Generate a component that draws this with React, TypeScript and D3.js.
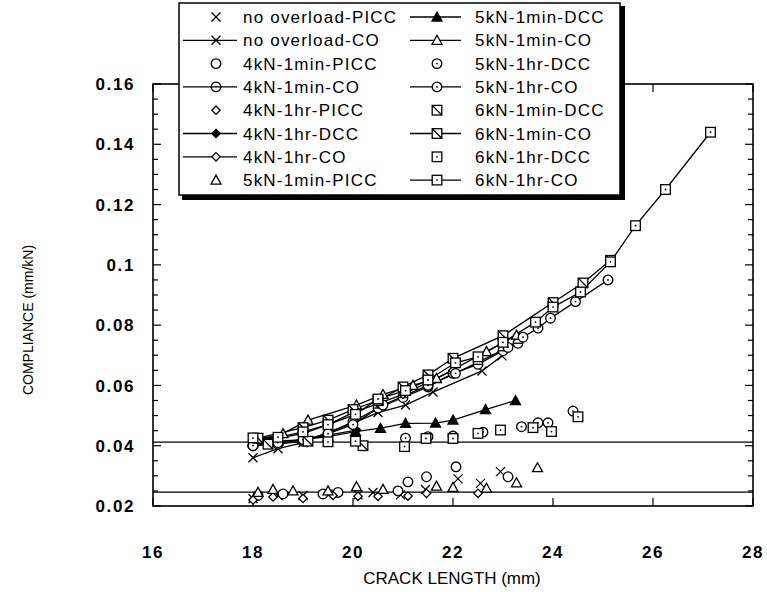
import React from 'react';
import * as d3 from 'd3';

const W = 767;
const H = 592;
const FONT = 'Liberation Sans, Arial, Helvetica, sans-serif';

// axis ticks
const xTicks = [16, 18, 20, 22, 24, 26, 28];
const yTicks = [0.02, 0.04, 0.06, 0.08, 0.1, 0.12, 0.14, 0.16];
const yTickLabels = ['0.02', '0.04', '0.06', '0.08', '0.1', '0.12', '0.14', '0.16'];
const refLines = [0.0412, 0.0246];

// series values [crack length mm, compliance mm/kN]
const noOverloadPICC = [[18.0, 0.0225], [18.5, 0.0235], [19.0, 0.0235], [19.5, 0.024], [20.1, 0.0237], [20.4, 0.0245], [20.95, 0.0237], [21.45, 0.0255], [22.1, 0.029], [22.55, 0.0275], [22.95, 0.0314]];
const noOverloadCO = [[18.0, 0.036], [18.5, 0.039], [19.0, 0.041], [19.5, 0.0445], [20.0, 0.0475], [20.5, 0.051], [21.05, 0.0535], [21.6, 0.0578], [22.58, 0.0648], [22.98, 0.0698]];
const kN4min1PICC = [[18.1, 0.0235], [18.6, 0.024], [19.4, 0.024], [19.7, 0.0245], [20.9, 0.025], [21.1, 0.028], [21.47, 0.0297], [22.06, 0.033], [23.1, 0.0297]];
const kN4min1CO = [[18.0, 0.04], [18.5, 0.0405], [19.0, 0.0415], [19.5, 0.044], [20.0, 0.048], [20.5, 0.0525], [21.0, 0.056], [21.5, 0.0595], [22.0, 0.064], [22.5, 0.067], [23.0, 0.0715], [23.3, 0.074]];
const kN4hr1PICC = [[18.0, 0.022], [18.4, 0.023], [19.0, 0.0225], [19.6, 0.0235], [20.1, 0.0232], [20.5, 0.0232], [21.1, 0.0233], [21.47, 0.0242], [22.5, 0.0242]];
const kN4hr1DCC = [[18.0, 0.0405], [18.5, 0.041], [19.0, 0.042], [19.5, 0.0435], [20.07, 0.0452]];
const kN4hr1CO = [[18.0, 0.042], [18.5, 0.0425], [19.0, 0.044], [19.5, 0.047], [20.0, 0.051], [20.5, 0.054], [21.0, 0.057], [21.5, 0.061], [22.0, 0.065]];
const kN5min1PICC = [[18.1, 0.0245], [18.4, 0.0255], [18.8, 0.025], [19.5, 0.025], [20.07, 0.0264], [20.6, 0.0255], [21.67, 0.0266], [22.0, 0.0262], [22.67, 0.0259], [23.27, 0.0277], [23.69, 0.0327]];
const kN5min1DCC = [[18.0, 0.041], [18.5, 0.0415], [19.0, 0.042], [19.5, 0.043], [20.05, 0.0447], [20.55, 0.0458], [21.05, 0.0474], [21.65, 0.0475], [22.0, 0.0485], [22.65, 0.052], [23.25, 0.055]];
const kN5min1CO = [[18.0, 0.0415], [18.6, 0.044], [19.1, 0.0485], [20.07, 0.0535], [20.6, 0.057], [21.2, 0.06], [21.67, 0.0623], [22.67, 0.0712], [23.27, 0.0767]];
const kN5hr1DCC = [[21.05, 0.0425], [21.5, 0.043], [22.0, 0.0432], [22.6, 0.0445], [23.37, 0.0463], [23.7, 0.0476], [23.9, 0.0476], [24.4, 0.0515]];
const kN5hr1CO = [[18.0, 0.04], [18.5, 0.041], [19.0, 0.042], [19.5, 0.044], [20.0, 0.047], [20.6, 0.0535], [21.5, 0.06], [22.05, 0.064], [23.1, 0.0726], [23.4, 0.076], [23.7, 0.079], [23.95, 0.0823], [24.45, 0.0878], [25.1, 0.095]];
const kN6min1DCC = [[18.3, 0.0405], [19.1, 0.0415], [20.2, 0.04]];
const kN6min1CO = [[18.1, 0.0425], [19.0, 0.046], [19.5, 0.0485], [20.0, 0.052], [20.5, 0.055], [21.0, 0.0595], [21.5, 0.0635], [22.0, 0.069], [23.0, 0.0765], [24.0, 0.0875], [24.6, 0.094], [25.15, 0.1015]];
const kN6hr1DCC = [[19.5, 0.0413], [20.05, 0.0415], [21.03, 0.0397], [21.46, 0.0424], [22.0, 0.0424], [22.5, 0.0441], [22.95, 0.0452], [23.6, 0.046], [23.97, 0.0447], [24.5, 0.0496]];
const kN6hr1CO = [[18.0, 0.0426], [18.5, 0.0428], [19.0, 0.0446], [19.5, 0.047], [20.05, 0.0504], [20.5, 0.0555], [21.05, 0.0583], [21.5, 0.0618], [22.05, 0.0675], [22.5, 0.0695], [23.0, 0.0743], [23.65, 0.081], [24.0, 0.086], [24.55, 0.091], [25.15, 0.101], [25.65, 0.113], [26.25, 0.125], [27.15, 0.144]];

const series = [
  { name: 'no overload-PICC', data: noOverloadPICC, marker: 'x', line: false },
  { name: 'no overload-CO', data: noOverloadCO, marker: 'x', line: true },
  { name: '4kN-1min-PICC', data: kN4min1PICC, marker: 'circle', line: false },
  { name: '4kN-1min-CO', data: kN4min1CO, marker: 'circleBar', line: true },
  { name: '4kN-1hr-PICC', data: kN4hr1PICC, marker: 'diamond', line: false },
  { name: '4kN-1hr-DCC', data: kN4hr1DCC, marker: 'diamondFill', line: true },
  { name: '4kN-1hr-CO', data: kN4hr1CO, marker: 'diamond', line: true },
  { name: '5kN-1min-PICC', data: kN5min1PICC, marker: 'triangle', line: false },
  { name: '5kN-1min-DCC', data: kN5min1DCC, marker: 'triangleFill', line: true },
  { name: '5kN-1min-CO', data: kN5min1CO, marker: 'triangle', line: true },
  { name: '5kN-1hr-DCC', data: kN5hr1DCC, marker: 'circleDot', line: false },
  { name: '5kN-1hr-CO', data: kN5hr1CO, marker: 'circleDot', line: true },
  { name: '6kN-1min-DCC', data: kN6min1DCC, marker: 'squareDiag', line: false },
  { name: '6kN-1min-CO', data: kN6min1CO, marker: 'squareDiag', line: true },
  { name: '6kN-1hr-DCC', data: kN6hr1DCC, marker: 'squareDot', line: false },
  { name: '6kN-1hr-CO', data: kN6hr1CO, marker: 'squareDot', line: true },
];

function Marker({ type, x, y }: { type: string; x: number; y: number }) {
  const r = 4.8;
  const sw = 1.3;
  const t = `translate(${x},${y})`;
  if (type === 'x')
    return (
      <g transform={t} stroke="#000" strokeWidth={sw}>
        <line x1={-4.5} y1={-4.5} x2={4.5} y2={4.5} />
        <line x1={-4.5} y1={4.5} x2={4.5} y2={-4.5} />
      </g>
    );
  if (type === 'circle' || type === 'circleBar' || type === 'circleDot')
    return (
      <g transform={t} stroke="#000" strokeWidth={sw}>
        <circle r={r} fill="#fff" />
        {type === 'circleBar' && <line x1={-r} x2={r} y1={0} y2={0} />}
        {type === 'circleDot' && <circle r={0.9} fill="#000" stroke="none" />}
      </g>
    );
  if (type === 'diamond' || type === 'diamondFill')
    return (
      <g transform={t} stroke="#000" strokeWidth={sw}>
        <polygon points="0,-4.2 4.2,0 0,4.2 -4.2,0" fill={type === 'diamondFill' ? '#000' : '#fff'} />
      </g>
    );
  if (type === 'triangle' || type === 'triangleFill')
    return (
      <g transform={t} stroke="#000" strokeWidth={sw}>
        <polygon points="0,-5 5,4 -5,4" fill={type === 'triangleFill' ? '#000' : '#fff'} />
      </g>
    );
  // squares
  return (
    <g transform={t} stroke="#000" strokeWidth={sw}>
      <rect x={-r} y={-r} width={2 * r} height={2 * r} fill="#fff" />
      {type === 'squareDiag' && <line x1={-r} y1={-r} x2={r} y2={r} />}
      {type === 'squareDot' && <circle r={0.9} fill="#000" stroke="none" />}
    </g>
  );
}

export default function App() {
  const x = d3.scaleLinear().domain([16, 28]).range([153, 753]);
  const y = d3.scaleLinear().domain([0.02, 0.16]).range([506, 84]);
  const line = d3
    .line<number[]>()
    .x((d) => x(d[0]))
    .y((d) => y(d[1]));

  const minorTicks = d3.range(0, 29).map((i) => 0.02 + i * 0.005);
  const [x0, x1] = x.range();
  const [y0, y1] = y.range();

  const legendRows = 8;
  const rowY = (i: number) => 17 + i * 23.3;

  return (
    <svg width={W} height={H} style={{ position: 'absolute', left: 0, top: 0, background: '#fff' }} fontFamily={FONT}>
      <rect width={W} height={H} fill="#fff" />

      {/* reference lines */}
      {refLines.map((v, i) => (
        <line key={i} x1={x0} x2={x1} y1={y(v)} y2={y(v)} stroke="#000" strokeWidth={1.4} />
      ))}

      {/* frame */}
      <rect x={x0} y={y1} width={x1 - x0} height={y0 - y1} fill="none" stroke="#000" strokeWidth={1.6} />

      {/* y ticks */}
      {minorTicks.map((v, i) => {
        const major = i % 4 === 0;
        const len = major ? 8 : 5;
        return (
          <g key={i} stroke="#000" strokeWidth={1.2}>
            <line x1={x0} x2={x0 + len} y1={y(v)} y2={y(v)} />
            <line x1={x1} x2={x1 - len} y1={y(v)} y2={y(v)} />
          </g>
        );
      })}
      {yTicks.map((v, i) => (
        <text key={i} x={135} y={y(v)} dy="0.36em" textAnchor="end" fontSize={17} fontWeight="bold" letterSpacing={1.6}>
          {yTickLabels[i]}
        </text>
      ))}

      {/* x ticks */}
      {xTicks.map((v, i) => (
        <g key={i}>
          <line x1={x(v)} x2={x(v)} y1={y0} y2={y0 - 8} stroke="#000" strokeWidth={1.2} />
          <line x1={x(v)} x2={x(v)} y1={y1} y2={y1 + 8} stroke="#000" strokeWidth={1.2} />
          <text x={x(v)} y={552} dy="0.36em" textAnchor="middle" fontSize={17} fontWeight="bold" letterSpacing={1.6}>
            {v}
          </text>
        </g>
      ))}

      {/* axis titles */}
      <text x={452} y={578} dy="0.36em" textAnchor="middle" fontSize={17}>
        CRACK LENGTH (mm)
      </text>
      <text transform={`translate(28,${320}) rotate(-90)`} dy="0.36em" textAnchor="middle" fontSize={14}>
        COMPLIANCE  (mm/kN)
      </text>

      {/* series lines */}
      {series
        .filter((s) => s.line)
        .map((s) => (
          <path key={s.name} d={line(s.data) || ''} fill="none" stroke="#000" strokeWidth={1.3} />
        ))}

      {/* markers */}
      {series.map((s) =>
        s.data.map((d, j) => <Marker key={s.name + j} type={s.marker} x={x(d[0])} y={y(d[1])} />)
      )}

      {/* legend */}
      <g>
        <rect x={182} y={6} width={443} height={194} fill="#000" />
        <rect x={179} y={3} width={441} height={192} fill="#fff" stroke="#000" strokeWidth={1.5} />
        {series.map((s, i) => {
          const col = Math.floor(i / legendRows);
          const ly = rowY(i % legendRows);
          const lineX0 = col === 0 ? 183 : 410;
          const lineX1 = col === 0 ? 237 : 461;
          const mx = col === 0 ? 216 : 437;
          const tx = col === 0 ? 243 : 475;
          return (
            <g key={s.name}>
              {s.line && <line x1={lineX0} x2={lineX1} y1={ly} y2={ly} stroke="#000" strokeWidth={1.3} />}
              <Marker type={s.marker} x={mx} y={ly} />
              <text x={tx} y={ly} dy="0.36em" fontSize={17} letterSpacing={1.2}>
                {s.name}
              </text>
            </g>
          );
        })}
      </g>
    </svg>
  );
}
